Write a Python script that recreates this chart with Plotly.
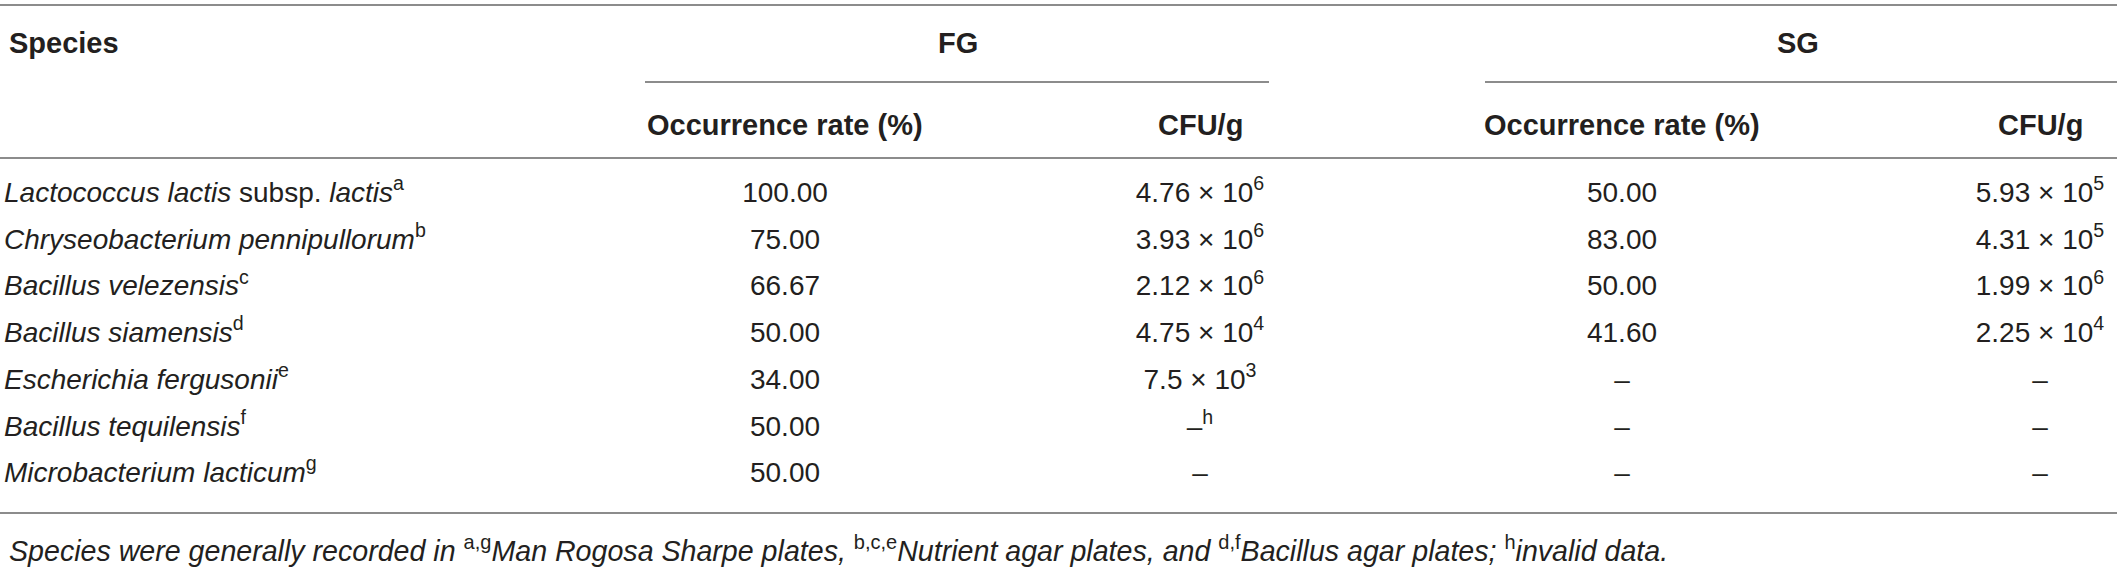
import plotly.graph_objects as go

# table content
species = ["Lactococcus lactis subsp. lactis", "Chryseobacterium pennipullorum",
           "Bacillus velezensis", "Bacillus siamensis", "Escherichia fergusonii",
           "Bacillus tequilensis", "Microbacterium lacticum"]
species_note = ["a", "b", "c", "d", "e", "f", "g"]

fg_rate = [100.00, 75.00, 66.67, 50.00, 34.00, 50.00, 50.00]
fg_cfu = ["4.76", "3.93", "2.12", "4.75", "7.5", None, None]
fg_exp = [6, 6, 6, 4, 3, None, None]
fg_cfu_note = [None, None, None, None, None, "h", None]

sg_rate = [50.00, 83.00, 50.00, 41.60, None, None, None]
sg_cfu = ["5.93", "4.31", "1.99", "2.25", None, None, None]
sg_exp = [5, 5, 6, 4, None, None, None]

footnote = ("<i>Species were generally recorded in </i><sup>a,g</sup><i>Man Rogosa Sharpe plates, </i>"
            "<sup>b,c,e</sup><i>Nutrient agar plates, and </i><sup>d,f</sup><i>Bacillus agar plates; </i>"
            "<sup>h</sup><i>invalid data.</i>")

W, H = 2117, 568
FONT = "Liberation Sans, Arial, Helvetica, sans-serif"
TXT = "#231f20"
LINE = "#8c8c8c"
FS = 28

row_y = [195 + 46.7 * i for i in range(len(species))]


def species_label(name, note):
    if " subsp. " in name:
        a, b = name.split(" subsp. ")
        s = "<i>%s</i> subsp. <i>%s</i>" % (a, b)
    else:
        s = "<i>%s</i>" % name
    return s + "<sup>%s</sup>" % note


def cfu_label(m, e, note=None):
    if m is None:
        s = "–"
    else:
        s = "%s × 10<sup>%d</sup>" % (m, e)
    if note:
        s += "<sup>%s</sup>" % note
    return s


def rate_label(v):
    return "–" if v is None else "%.2f" % v


fig = go.Figure()

def col(x, texts, pos="middle center"):
    fig.add_trace(go.Scatter(x=[x] * len(texts), y=row_y, text=texts, mode="text",
                             textposition=pos, cliponaxis=False, hoverinfo="skip",
                             textfont=dict(family=FONT, size=FS, color=TXT)))

col(4, [species_label(n, s) for n, s in zip(species, species_note)], "middle right")
col(785, [rate_label(v) for v in fg_rate])
col(1200, [cfu_label(m, e, n) for m, e, n in zip(fg_cfu, fg_exp, fg_cfu_note)])
col(1622, [rate_label(v) for v in sg_rate])
col(2040, [cfu_label(m, e) for m, e in zip(sg_cfu, sg_exp)])

# header
hdr = [("Species", 7, 43, "left"), ("FG", 958, 43, "center"), ("SG", 1798, 43, "center"),
       ("Occurrence rate (%)", 785, 125, "center"), ("CFU/g", 1200, 125, "center"),
       ("Occurrence rate (%)", 1622, 125, "center"), ("CFU/g", 2040, 125, "center")]
for t, x, y, a in hdr:
    fig.add_annotation(x=x, y=y, text="<b>%s</b>" % t, showarrow=False, xanchor=a,
                       yanchor="middle", font=dict(family=FONT, size=29, color=TXT))

fig.add_annotation(x=7, y=549, text=footnote, showarrow=False, xanchor="left", yanchor="middle",
                   font=dict(family=FONT, size=28.6, color=TXT))

# rules
for x0, x1, y in [(0, W, 5), (645, 1269, 82), (1485, W, 82), (0, W, 158), (0, W, 513)]:
    fig.add_shape(type="line", x0=x0, x1=x1, y0=y, y1=y, line=dict(color=LINE, width=2))

fig.update_layout(width=W, height=H, margin=dict(l=0, r=0, t=0, b=0),
                  plot_bgcolor="white", paper_bgcolor="white", showlegend=False,
                  xaxis=dict(range=[0, W], visible=False, fixedrange=True),
                  yaxis=dict(range=[H, 0], visible=False, fixedrange=True))
fig.write_html("out.html", config={"displayModeBar": False},
               post_script="document.body.style.margin='0';document.body.style.overflow='hidden';")
